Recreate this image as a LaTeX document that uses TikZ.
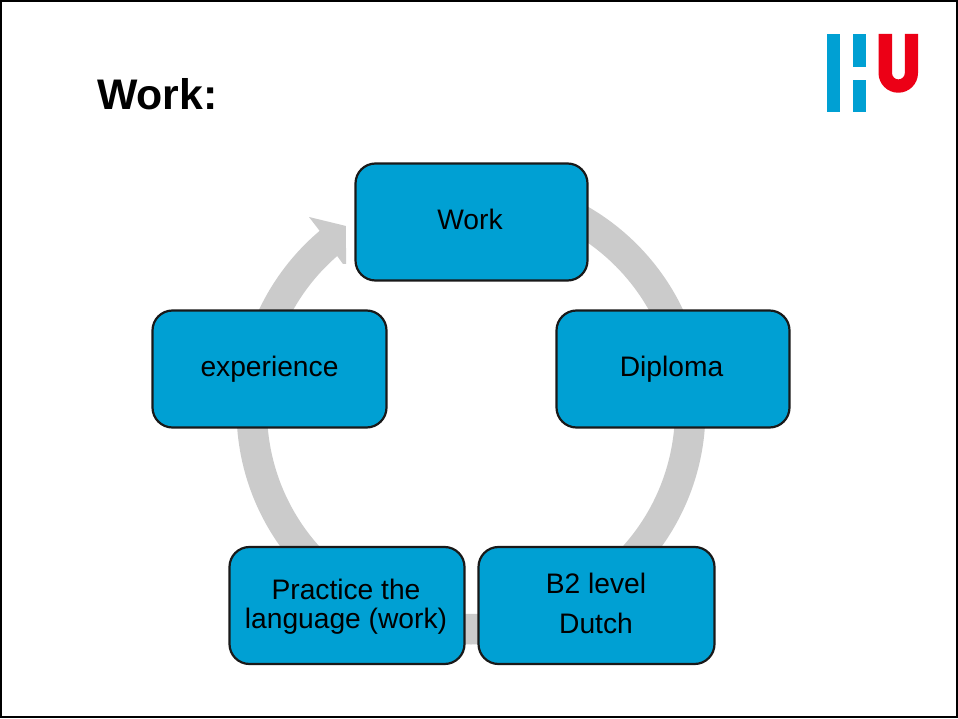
\documentclass[tikz,border=0pt]{standalone}
\usepackage{fontspec}
\setmainfont{Liberation Sans}
\definecolor{hublue}{HTML}{00A0D3}
\definecolor{hured}{HTML}{EC0016}
\definecolor{ringgray}{HTML}{CBCBCB}
\tikzset{
  x=1pt,y=1pt,
  boxlabel/.style={font=\fontsize{28.2}{28.5}\selectfont,text=black,align=center,inner sep=0pt},
  box/.style={draw=black!90,line width=2.2pt,fill=hublue,rounded corners=20pt,inner sep=0pt,
    minimum height=117pt,align=center,font=\fontsize{28.2}{28.5}\selectfont,text=black},
  ring/.style={fill=ringgray,draw=none},
  logoblue/.style={fill=hublue,draw=none},
  logored/.style={fill=hured,draw=none}
}
\begin{document}
\begin{tikzpicture}
\useasboundingbox (0,0) rectangle (958,718);
\fill[white] (0,0) rectangle (958,718);
\coordinate (ringc) at (471,308);
% ring and arrowhead
\fill[ring] ([shift={(ringc)}]90:234.5) arc[start angle=90,end angle=-230,radius=234.5]
  -- ([shift={(ringc)}]-230:204) arc[start angle=-230,end angle=90,radius=204] -- cycle;
\fill[ring] (309,501) -- (346,492) -- (346,454) -- (343,454) -- (335,465) -- (319,488) -- cycle;
\fill[white] (346,470) rectangle (356,540);
% boxes
\node[box,minimum width=232pt] (work) at (471.5,496) {\raisebox{5pt}{Work\kern3pt}};
\node[box,minimum width=233pt] (diploma) at (673,349) {Diploma\kern3pt};
\node[box,minimum width=234pt] (exp) at (269.5,349) {experience};
\node[box,minimum width=235pt] (practice) at (347,112.5) {};
\node[box,minimum width=236pt] (b2) at (596.5,112.5) {};
\node[boxlabel] (practicetext) at (346,111.5) {Practice the\\language (work)};
\node[boxlabel] (b2a) at (596,135) {B2 level};
\node[boxlabel] (b2b) at (596,95) {Dutch};
% title
\node[font=\fontsize{42.8}{44}\selectfont\bfseries,anchor=base west,inner sep=0pt] (title) at (97,608) {Work:};
% logo
\fill[logoblue] (827,606) rectangle (840,684);
\fill[logoblue] (852.5,651) rectangle (865.5,684);
\fill[logoblue] (852.5,606) rectangle (865.5,638);
\fill[logored] (878.5,684) -- (878.5,645) arc[start angle=180,end angle=360,radius=19.75]
  -- (918,684) -- (904.8,684) -- (904.8,645) arc[start angle=360,end angle=180,radius=6.4] -- (892,684) -- cycle;
% frame
\draw[black,line width=2pt] (1,1) rectangle (957,717);
\end{tikzpicture}
\end{document}
